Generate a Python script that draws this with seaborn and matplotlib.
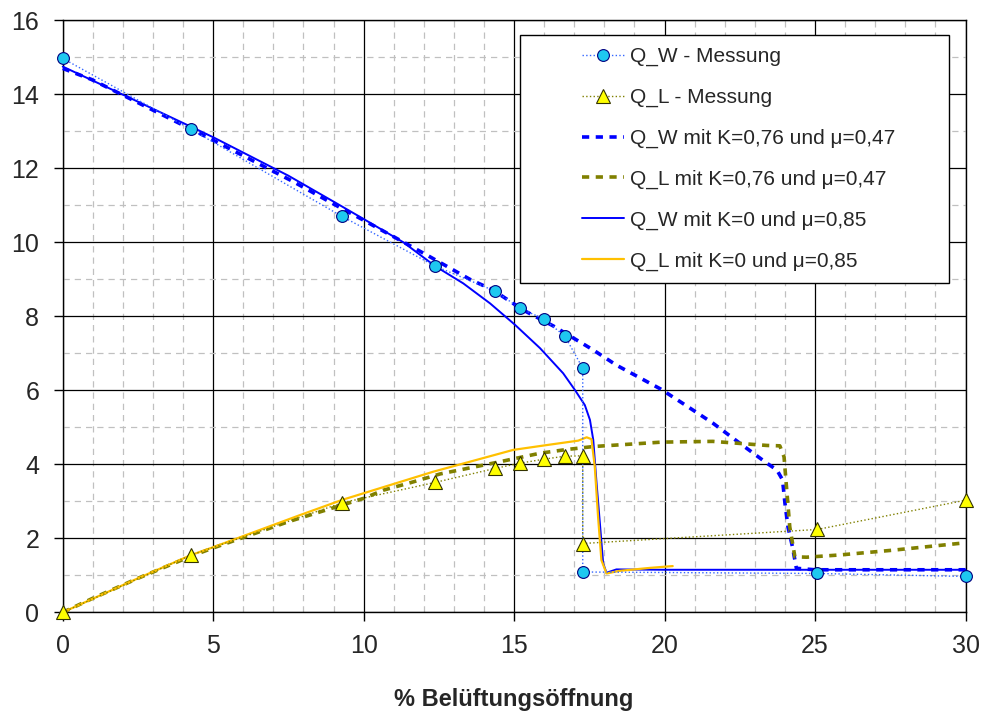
import seaborn as sns
from matplotlib import pyplot as plt
from matplotlib.lines import Line2D
from matplotlib.legend_handler import HandlerLine2D
from matplotlib.ticker import MultipleLocator

# measured values
mess_x = [0, 4.27, 9.28, 12.37, 14.37, 15.19, 16.0, 16.69, 17.28, 17.28, 25.08, 30]
qw_mess = [14.97, 13.05, 10.7, 9.36, 8.68, 8.22, 7.92, 7.46, 6.6, 1.09, 1.05, 0.97]
ql_mess = [0, 1.55, 2.96, 3.51, 3.89, 4.03, 4.14, 4.22, 4.23, 1.86, 2.24, 3.03]

# model K=0.76, mu=0.47
qw_k076_x = [0, 0.96, 2.24, 3.62, 5.0, 6.33, 7.66, 8.99, 9.99, 11.2, 12.2, 13.53, 14.3,
             15.3, 16.3, 17.63, 18.4, 19.88, 20.73, 21.61, 22.5, 23.4, 23.73, 23.92,
             24.0, 24.1, 24.25, 24.38, 25, 30]
qw_k076_y = [14.7, 14.4, 13.88, 13.32, 12.76, 12.2, 11.64, 11.04, 10.6, 10.06, 9.61, 9.0, 8.71,
             8.17, 7.74, 7.09, 6.68, 6.03, 5.58, 5.11, 4.57, 4.03, 3.85, 3.58,
             2.95, 2.31, 1.77, 1.19, 1.15, 1.15]
ql_k076_x = [0, 1, 2.5, 4.27, 5, 7.5, 10, 10.65, 11.54, 12.54, 14.53, 15.86, 16.74, 17.63,
             18.0, 19.9, 21.6, 23.4, 23.83, 23.97, 24.05, 24.16, 24.33, 24.72, 25.82, 27.6, 30]
ql_k076_y = [0, 0.38, 0.92, 1.52, 1.74, 2.45, 3.08, 3.3, 3.5, 3.74, 4.07, 4.3, 4.4, 4.48,
             4.5, 4.6, 4.62, 4.51, 4.5, 4.2, 3.4, 2.31, 1.5, 1.49, 1.55, 1.68, 1.88]

# model K=0, mu=0.85
qw_k0_x = [0, 2.5, 5, 7.5, 9, 10, 11.32, 12.37, 13.31, 14.2, 15.03, 15.86, 16.63, 17.02,
           17.35, 17.52, 17.63, 17.74, 17.85, 17.96, 18.07, 18.4, 20, 30]
qw_k0_y = [14.75, 13.8, 12.84, 11.8, 11.1, 10.63, 10.0, 9.36, 8.89, 8.35, 7.77, 7.14, 6.46, 6.01,
           5.6, 5.2, 4.66, 3.49, 2.41, 1.32, 1.07, 1.16, 1.15, 1.15]
ql_k0_x = [0, 2.5, 4.27, 5, 7.89, 9.29, 12.31, 14.97, 16.08, 17.13, 17.41, 17.57, 17.68,
           17.79, 17.9, 18.07, 18.5, 19.5, 20.27]
ql_k0_y = [0, 0.92, 1.55, 1.76, 2.63, 3.04, 3.8, 4.39, 4.52, 4.64, 4.73, 4.68, 3.94,
           2.58, 1.41, 1.05, 1.12, 1.2, 1.25]

sns.set_style('white')
plt.rcParams['font.family'] = ['Liberation Sans', 'DejaVu Sans']

fig = plt.figure(figsize=(9.82, 7.13), dpi=100)
ax = fig.add_axes([0.0639, 0.1412, 0.9193, 0.8303])

kw = dict(estimator=None, sort=False, errorbar=None, ax=ax, clip_on=False)

sns.lineplot(x=mess_x, y=qw_mess, color='#3366FF', lw=1, ls=':', marker='o', markersize=8.5,
             markerfacecolor='#1EC8F0', markeredgecolor='#000080', markeredgewidth=0.8,
             label='Q_W - Messung', zorder=5, **kw)
sns.lineplot(x=mess_x, y=ql_mess, color='#808000', lw=1, ls=':', marker='^', markersize=9.5,
             markerfacecolor='#FFFF00', markeredgecolor='#333300', markeredgewidth=0.8,
             label='Q_L - Messung', zorder=5, **kw)
sns.lineplot(x=qw_k076_x, y=qw_k076_y, color='#0000FF', lw=2.6, ls=(0, (2, 1.8)),
             label='Q_W mit K=0,76 und μ=0,47', zorder=3, **kw)
sns.lineplot(x=ql_k076_x, y=ql_k076_y, color='#808000', lw=2.6, ls=(0, (2, 1.8)),
             label='Q_L mit K=0,76 und μ=0,47', zorder=3, **kw)
sns.lineplot(x=qw_k0_x, y=qw_k0_y, color='#0000FF', lw=1.4,
             label='Q_W mit K=0 und μ=0,85', zorder=4, **kw)
sns.lineplot(x=ql_k0_x, y=ql_k0_y, color='#FFC000', lw=1.6,
             label='Q_L mit K=0 und μ=0,85', zorder=4, **kw)

ax.set_xlim(0, 30)
ax.set_ylim(0, 16)
ax.xaxis.set_major_locator(MultipleLocator(5))
ax.yaxis.set_major_locator(MultipleLocator(2))
ax.xaxis.set_minor_locator(MultipleLocator(1))
ax.yaxis.set_minor_locator(MultipleLocator(1))
ax.set_axisbelow(True)
ax.grid(which='major', color='black', lw=0.9, ls='-')
ax.grid(which='minor', color='#C0C0C0', lw=0.9, ls=(0, (5, 4)))
ax.tick_params(which='major', direction='out', length=6.5, width=1, color='black',
               labelsize=18, bottom=True, left=True)
ax.tick_params(axis='x', pad=9)
ax.tick_params(axis='y', pad=10.5)
ax.tick_params(which='minor', length=0)
for s in ax.spines.values():
    s.set_color('black')
    s.set_linewidth(1)

ax.set_xlabel('% Belüftungsöffnung', fontsize=17, fontweight='bold', labelpad=22)
ax.set_ylabel('')

handles, labels = ax.get_legend_handles_labels()
leg = ax.legend(handles, labels, loc='upper left', mode='expand', borderaxespad=0,
                bbox_to_anchor=(0.5295, 0.603, 0.437, 0.348), bbox_transform=fig.transFigure,
                fontsize=15, frameon=True, fancybox=False, edgecolor='black', framealpha=1,
                borderpad=0.58, labelspacing=1.04, handlelength=4.4, handletextpad=0.3,
                numpoints=1, handler_map={Line2D: HandlerLine2D(xpad=2.38)})
leg.get_frame().set_linewidth(1)
leg.set_zorder(10)

fig.savefig('out.png', dpi=100)
